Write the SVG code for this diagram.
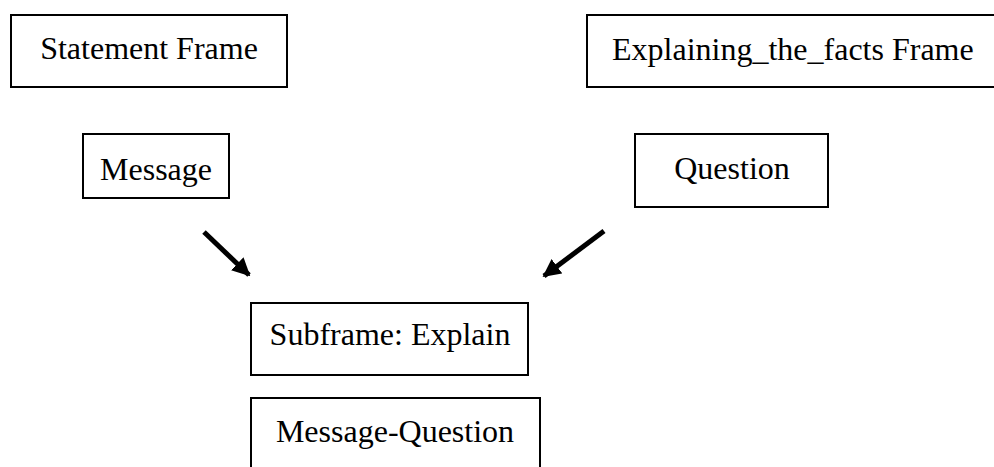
<svg xmlns="http://www.w3.org/2000/svg" width="994" height="467" viewBox="0 0 994 467">
  <style>
    .box { fill: #fff; stroke: #000; stroke-width: 2; }
    .lbl { font-family: "Liberation Serif", "Times New Roman", serif; font-size: 32px; fill: #000; }
    .conn { stroke: #000; stroke-width: 5; fill: none; }
  </style>
  <defs>
    <marker id="head" viewBox="0 0 10 10" refX="9" refY="5" markerWidth="3.6" markerHeight="3.6" orient="auto" markerUnits="strokeWidth">
      <path d="M0,0 L10,5 L0,10 Z" fill="#000"/>
    </marker>
  </defs>
  <rect width="994" height="467" fill="#fff"/>

  <g id="statement-frame">
    <rect class="box" x="11" y="15" width="276" height="72"/>
    <text class="lbl" x="149" y="59" text-anchor="middle">Statement Frame</text>
  </g>
  <g id="explaining-frame">
    <rect class="box" x="587" y="15" width="420" height="72"/>
    <text class="lbl" x="612" y="60">Explaining_the_facts Frame</text>
  </g>
  <g id="message">
    <rect class="box" x="83" y="134" width="146" height="64"/>
    <text class="lbl" x="156" y="180" text-anchor="middle">Message</text>
  </g>
  <g id="question">
    <rect class="box" x="635" y="134" width="193" height="73"/>
    <text class="lbl" x="732" y="179" text-anchor="middle">Question</text>
  </g>
  <g id="subframe-explain">
    <rect class="box" x="251" y="303" width="277" height="72"/>
    <text class="lbl" x="390" y="345" text-anchor="middle">Subframe: Explain</text>
  </g>
  <g id="message-question">
    <rect class="box" x="251" y="398" width="289" height="80"/>
    <text class="lbl" x="395" y="442" text-anchor="middle">Message-Question</text>
  </g>

  <g id="connectors">
    <line class="conn" x1="204" y1="232" x2="249" y2="275" marker-end="url(#head)"/>
    <line class="conn" x1="604" y1="231" x2="544" y2="276" marker-end="url(#head)"/>
  </g>
</svg>
